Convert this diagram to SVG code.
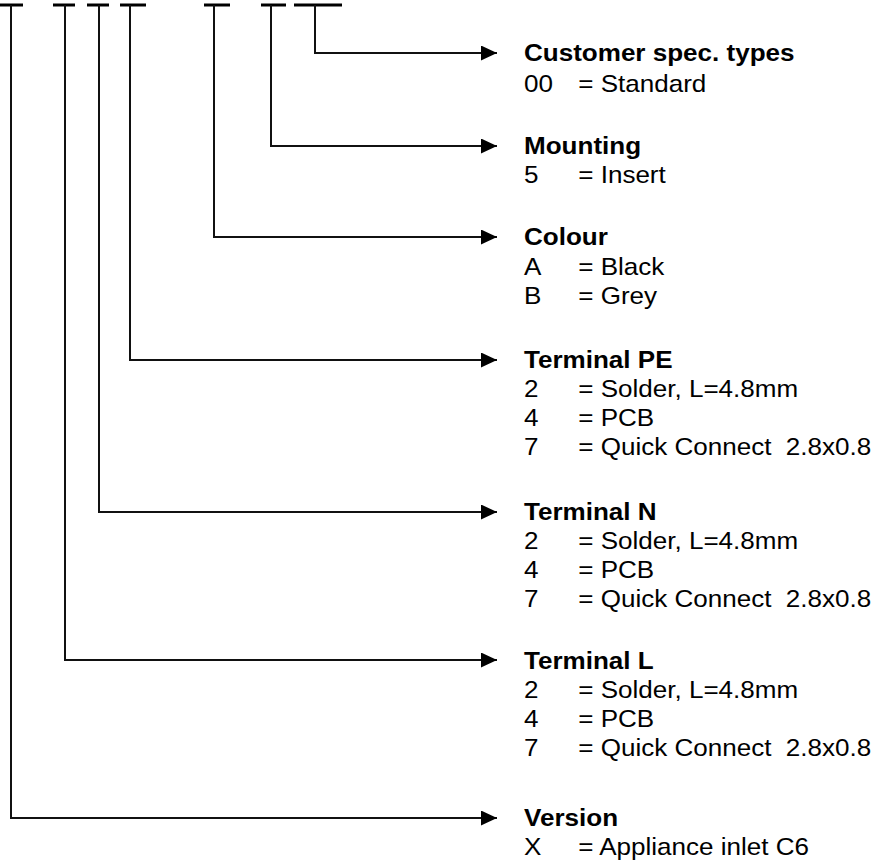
<svg xmlns="http://www.w3.org/2000/svg" width="880" height="861" viewBox="0 0 880 861">
<defs>
<style>
.bar{stroke:#000;stroke-width:3;fill:none}
.wire{stroke:#111;stroke-width:2;fill:none;marker-end:url(#ah)}
text{font-family:"Liberation Sans",Arial,sans-serif;font-size:24px;fill:#000}
.t{font-weight:bold}
</style>
<marker id="ah" markerUnits="userSpaceOnUse" markerWidth="17" markerHeight="16" refX="16" refY="7.5" orient="auto">
<path d="M0,0 L16,7.5 L0,15 z" fill="#000"/>
</marker>
</defs>
<rect width="880" height="861" fill="#fff"/>
<g id="code-bars">
<line class="bar" x1="0" y1="5" x2="23" y2="5"/>
<line class="bar" x1="53" y1="5" x2="75" y2="5"/>
<line class="bar" x1="87" y1="5" x2="109" y2="5"/>
<line class="bar" x1="120" y1="5" x2="146" y2="5"/>
<line class="bar" x1="204" y1="5" x2="230" y2="5"/>
<line class="bar" x1="261" y1="5" x2="286" y2="5"/>
<line class="bar" x1="294" y1="5" x2="342" y2="5"/>
</g>
<g id="connectors">
<path class="wire" d="M315,5 V53 H497"/>
<path class="wire" d="M271,5 V146 H497"/>
<path class="wire" d="M214,5 V237 H497"/>
<path class="wire" d="M130,5 V360 H497"/>
<path class="wire" d="M99,5 V512 H497"/>
<path class="wire" d="M65,5 V660 H497"/>
<path class="wire" d="M11,5 V818 H497"/>
</g>
<g id="customer" transform="translate(524,0) scale(1.085,1)">
<text class="t" x="0" y="61.5">Customer spec. types</text>
<text x="0" y="92.5">00</text><text x="50" y="92.5">= Standard</text>
</g>
<g id="mounting" transform="translate(524,0) scale(1.085,1)">
<text class="t" x="0" y="154.5">Mounting</text>
<text x="0" y="183.5">5</text><text x="50" y="183.5">= Insert</text>
</g>
<g id="colour" transform="translate(524,0) scale(1.085,1)">
<text class="t" x="0" y="245.5">Colour</text>
<text x="0" y="275">A</text><text x="50" y="275">= Black</text>
<text x="0" y="304">B</text><text x="50" y="304">= Grey</text>
</g>
<g id="terminal-pe" transform="translate(524,0) scale(1.085,1)">
<text class="t" x="0" y="368.5">Terminal PE</text>
<text x="0" y="397.5">2</text><text x="50" y="397.5">= Solder, L=4.8mm</text>
<text x="0" y="426.5">4</text><text x="50" y="426.5">= PCB</text>
<text x="0" y="455.5">7</text><text x="50" y="455.5" xml:space="preserve">= Quick Connect  2.8x0.8</text>
</g>
<g id="terminal-n" transform="translate(524,0) scale(1.085,1)">
<text class="t" x="0" y="520.5">Terminal N</text>
<text x="0" y="549.5">2</text><text x="50" y="549.5">= Solder, L=4.8mm</text>
<text x="0" y="578.5">4</text><text x="50" y="578.5">= PCB</text>
<text x="0" y="607.5">7</text><text x="50" y="607.5" xml:space="preserve">= Quick Connect  2.8x0.8</text>
</g>
<g id="terminal-l" transform="translate(524,0) scale(1.085,1)">
<text class="t" x="0" y="669">Terminal L</text>
<text x="0" y="698">2</text><text x="50" y="698">= Solder, L=4.8mm</text>
<text x="0" y="727">4</text><text x="50" y="727">= PCB</text>
<text x="0" y="756">7</text><text x="50" y="756" xml:space="preserve">= Quick Connect  2.8x0.8</text>
</g>
<g id="version" transform="translate(524,0) scale(1.085,1)">
<text class="t" x="0" y="826.5">Version</text>
<text x="0" y="855.5">X</text><text x="50" y="855.5">= Appliance inlet C6</text>
</g>
</svg>
